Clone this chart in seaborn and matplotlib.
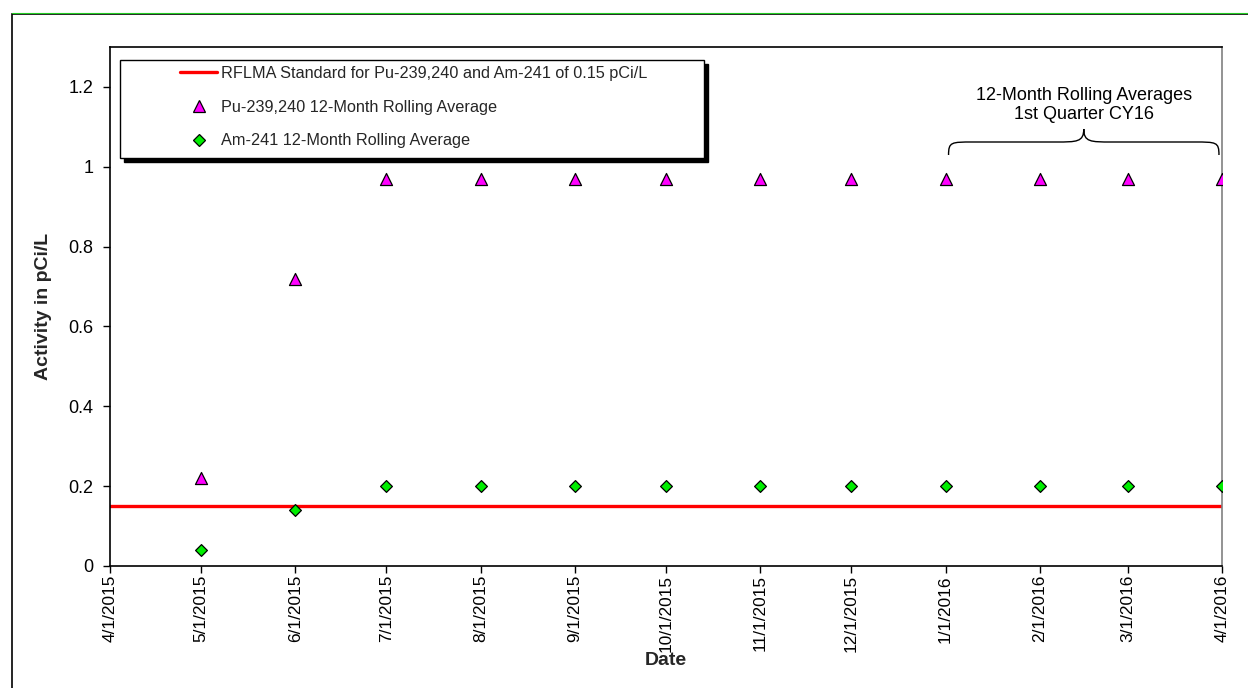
import matplotlib
matplotlib.use("Agg")
import matplotlib.pyplot as plt
import matplotlib.dates as mdates
from matplotlib.patches import Rectangle, PathPatch
from matplotlib.path import Path
from matplotlib.lines import Line2D
import pandas as pd
import seaborn as sns

# Sample dates and 12-month rolling averages (pCi/L)
dates = ["2015-05-01", "2015-06-01", "2015-07-01", "2015-08-01", "2015-09-01",
         "2015-10-01", "2015-11-01", "2015-12-01", "2016-01-01", "2016-02-01",
         "2016-03-01", "2016-04-01"]
pu_avg = [0.22, 0.72, 0.97, 0.97, 0.97, 0.97, 0.97, 0.97, 0.97, 0.97, 0.97, 0.97]
am_avg = [0.04, 0.14, 0.20, 0.20, 0.20, 0.20, 0.20, 0.20, 0.20, 0.20, 0.20, 0.20]
standard = 0.15

tick_dates = ["2015-04-01"] + dates
tick_labels = ["4/1/2015", "5/1/2015", "6/1/2015", "7/1/2015", "8/1/2015",
               "9/1/2015", "10/1/2015", "11/1/2015", "12/1/2015", "1/1/2016",
               "2/1/2016", "3/1/2016", "4/1/2016"]
y_ticks = [0, 0.2, 0.4, 0.6, 0.8, 1.0, 1.2]
y_tick_labels = ["0", "0.2", "0.4", "0.6", "0.8", "1", "1.2"]

lbl_std = "RFLMA Standard for Pu-239,240 and Am-241 of 0.15 pCi/L"
lbl_pu = "Pu-239,240 12-Month Rolling Average"
lbl_am = "Am-241 12-Month Rolling Average"

df = pd.DataFrame({"date": pd.to_datetime(dates), "pu": pu_avg, "am": am_avg})

sns.set_theme(style="white")
plt.rcParams["font.family"] = ["Liberation Sans", "DejaVu Sans"]

W, H = 1248, 688
fig = plt.figure(figsize=(W / 100, H / 100), dpi=100)
L, R, T, B = 110, 1222, 47, 566
ax = fig.add_axes([L / W, 1 - B / H, (R - L) / W, (B - T) / H])

def axfrac(px, py):
    return ((px - L) / (R - L), (B - py) / (B - T))

# outer chart frame
fig.patches.append(Rectangle((12 / W, -0.1), 1.2, 1 - 14 / H + 0.1,
                             transform=fig.transFigure, fill=False,
                             edgecolor="black", linewidth=1.2))
fig.lines.append(Line2D([12 / W, 1], [1 - 13 / H, 1 - 13 / H],
                        transform=fig.transFigure, color="#22cc22", linewidth=0.8))

magenta = "#FF00FF"
green = "#00EE00"

ax.axhline(standard, color="#FF0000", linewidth=2.4, zorder=2)
sns.scatterplot(data=df, x="date", y="pu", marker="^", color=magenta, s=75,
                edgecolor="black", linewidth=0.9, ax=ax, zorder=3, legend=False)
sns.scatterplot(data=df, x="date", y="am", marker="D", color=green, s=36,
                edgecolor="black", linewidth=0.9, ax=ax, zorder=3, legend=False)

ax.set_xlim(pd.Timestamp("2015-04-01"), pd.Timestamp("2016-04-01"))
ax.set_ylim(0, 1.3)
ax.set_xticks(pd.to_datetime(tick_dates))
ax.set_xticklabels(tick_labels, rotation=90, fontsize=12.4)
ax.set_yticks(y_ticks)
ax.set_yticklabels(y_tick_labels, fontsize=13)
ax.tick_params(axis="both", direction="out", length=5, width=1, color="black",
               bottom=True, left=True, labelcolor="black")
ax.tick_params(axis="y", pad=7)
ax.tick_params(axis="x", pad=1.5)
ax.set_xlabel("Date", fontsize=14, fontweight="bold")
ax.xaxis.set_label_coords(0.5, axfrac(0, 652)[1])
ax.set_ylabel("Activity in pCi/L", fontsize=14, fontweight="bold", labelpad=12)
for side in ["left", "bottom", "top"]:
    ax.spines[side].set_color("black")
    ax.spines[side].set_linewidth(1.2)
ax.spines["right"].set_color("#808080")
ax.spines["right"].set_linewidth(1.2)

# legend box with solid drop shadow
lx0, ly0, lx1, ly1 = 120, 60, 704, 158
x0, y0 = axfrac(lx0, ly1)
x1, y1 = axfrac(lx1, ly0)
sx, sy = 4 / (R - L), 4 / (B - T)
ax.add_patch(Rectangle((x0 + sx, y0 - sy), x1 - x0, y1 - y0, transform=ax.transAxes,
                       facecolor="black", edgecolor="black", zorder=5, clip_on=False))
ax.add_patch(Rectangle((x0, y0), x1 - x0, y1 - y0, transform=ax.transAxes,
                       facecolor="white", edgecolor="black", linewidth=1.0,
                       zorder=6, clip_on=False))
handles = [
    Line2D([], [], color="#FF0000", linewidth=2.4),
    Line2D([], [], linestyle="none", marker="^", markersize=8.5,
           markerfacecolor=magenta, markeredgecolor="black", markeredgewidth=0.9),
    Line2D([], [], linestyle="none", marker="D", markersize=6,
           markerfacecolor=green, markeredgecolor="black", markeredgewidth=0.9),
]
leg = ax.legend(handles, [lbl_std, lbl_pu, lbl_am], loc="upper left",
                bbox_to_anchor=axfrac(180, 66), frameon=False, borderpad=0,
                borderaxespad=0, handlelength=2.3, handletextpad=0.25,
                labelspacing=1.15, fontsize=11.7)
leg.set_zorder(7)

# brace spanning the first-quarter CY16 averages
def yv(py):
    return (B - py) / (B - T) * 1.3

bx0 = mdates.date2num(pd.Timestamp("2016-01-01"))
bx1 = mdates.date2num(pd.Timestamp("2016-04-01"))
bm = (bx0 + bx1) / 2
y_end = yv(155)
y_mid = yv(142)
y_tip = yv(129)
dx = (bx1 - bx0) * 0.10
e = 1.0
verts = [(bx0 + e, y_end), (bx0 + e, y_mid), (bx0 + dx * 0.2, y_mid), (bx0 + dx, y_mid),
         (bm - dx, y_mid),
         (bm - dx * 0.25, y_mid), (bm, y_mid), (bm, y_tip),
         (bm, y_mid), (bm + dx * 0.25, y_mid), (bm + dx, y_mid),
         (bx1 - dx, y_mid),
         (bx1 - dx * 0.2, y_mid), (bx1 - e, y_mid), (bx1 - e, y_end)]
codes = [Path.MOVETO, Path.CURVE4, Path.CURVE4, Path.CURVE4,
         Path.LINETO,
         Path.CURVE4, Path.CURVE4, Path.CURVE4,
         Path.CURVE4, Path.CURVE4, Path.CURVE4,
         Path.LINETO,
         Path.CURVE4, Path.CURVE4, Path.CURVE4]
ax.add_patch(PathPatch(Path(verts, codes), fill=False, edgecolor="black", linewidth=1.0))
ax.text(bm, yv(105), "12-Month Rolling Averages\n1st Quarter CY16", ha="center",
        va="center", fontsize=13, linespacing=1.15, color="black")

fig.savefig("out.png", dpi=100)
